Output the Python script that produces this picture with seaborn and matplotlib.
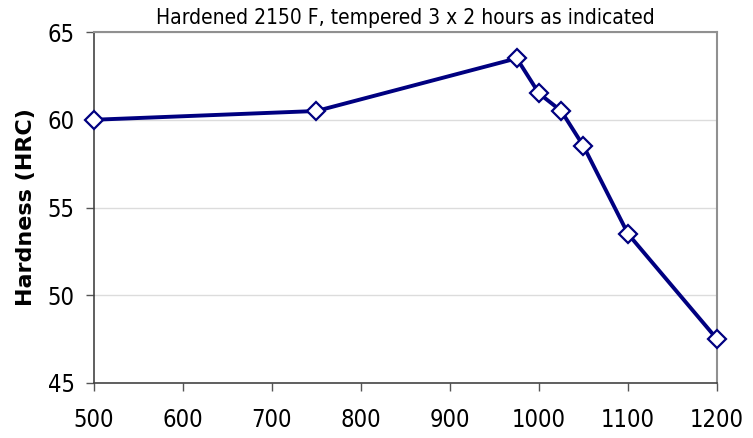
import matplotlib
matplotlib.use("Agg")
import matplotlib.pyplot as plt
import seaborn as sns
import pandas as pd

# tempering temperature (F) vs hardness (HRC)
temper_temp = [500, 750, 975, 1000, 1025, 1050, 1100, 1200]
hardness = [60.0, 60.5, 63.5, 61.5, 60.5, 58.5, 53.5, 47.5]
x_ticks = [500, 600, 700, 800, 900, 1000, 1100, 1200]
y_ticks = [45, 50, 55, 60, 65]

df = pd.DataFrame({"temp": temper_temp, "hrc": hardness})

sns.set_style("white")
plt.rcParams["font.family"] = ["DejaVu Sans"]
plt.rcParams["text.color"] = "black"
plt.rcParams["axes.labelcolor"] = "black"
plt.rcParams["xtick.color"] = "black"
plt.rcParams["ytick.color"] = "black"

fig = plt.figure(figsize=(7.53, 4.38), dpi=100)
ax = fig.add_axes([0.1248, 0.1256, 0.8274, 0.8013])

sns.lineplot(data=df, x="temp", y="hrc", ax=ax, color="#000080", linewidth=2.8,
             marker="D", markersize=9, markerfacecolor="white",
             markeredgecolor="#000080", markeredgewidth=1.6, clip_on=False, zorder=5)

ax.set_xlim(500, 1200)
ax.set_ylim(45, 65)
ax.set_xticks(x_ticks)
ax.set_yticks(y_ticks)
ax.set_xticklabels([str(t) for t in x_ticks], fontsize=17, fontstretch="condensed")
ax.set_yticklabels([str(t) for t in y_ticks], fontsize=17, fontstretch="condensed")
ax.tick_params(direction="out", length=6, width=1, color="#555555", pad=8,
               bottom=True, left=True, labelcolor="black")
ax.tick_params(axis="x", pad=12)

ax.grid(axis="y", color="#dcdcdc", linewidth=1)
ax.set_axisbelow(True)

for s in ["left", "bottom"]:
    ax.spines[s].set_color("#444444")
    ax.spines[s].set_linewidth(1.2)
for s in ["top", "right"]:
    ax.spines[s].set_color("#909090")
    ax.spines[s].set_linewidth(1.5)

ax.set_xlabel("")
ax.set_ylabel("Hardness (HRC)", fontsize=16, fontweight="bold", labelpad=8, color="black")
ax.set_title("Hardened 2150 F, tempered 3 x 2 hours as indicated",
             fontsize=15, fontstretch="condensed", pad=6, color="black")

fig.savefig("out.png", dpi=100)
